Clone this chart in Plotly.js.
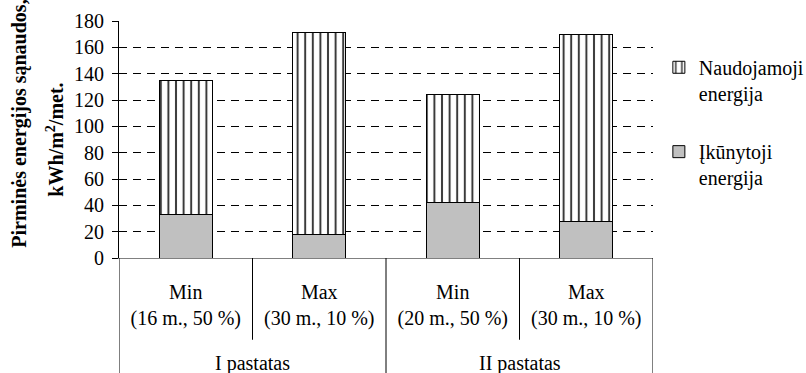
<!DOCTYPE html>
<html>
<head>
<meta charset="utf-8">
<script src="https://cdn.plot.ly/plotly-3.0.1.min.js"></script>
<style>
  html, body { margin: 0; padding: 0; background: #fff; }
  #chart { width: 806px; height: 373px; }
</style>
</head>
<body>
<div id="chart"></div>
<script>
// Scenario labels (inner level) and building groups (outer level)
const cases = ['Min<br>(16 m., 50 %)', 'Max<br>(30 m., 10 %)', 'Min<br>(20 m., 50 %)', 'Max<br>(30 m., 10 %)'];
const buildings = ['I pastatas', 'II pastatas'];
const casesPerBuilding = 2;

// Primary energy use, kWh/m2/year
const embodied = [33, 18, 42, 28];          // Įkūnytoji energija
const operational = [102, 153, 82, 142];    // Naudojamoji energija

const yTicks = [0, 20, 40, 60, 80, 100, 120, 140, 160, 180];

const FONT = "'Liberation Serif', 'Times New Roman', serif";
const xIdx = cases.map((_, i) => i);

const traces = [
  {
    type: 'bar',
    name: 'Įkūnytoji<br>energija',
    x: xIdx,
    y: embodied,
    width: 0.4,
    legend: 'legend2',
    marker: { color: '#c0c0c0', line: { color: '#000', width: 1 } },
    hoverinfo: 'skip'
  },
  {
    type: 'bar',
    name: 'Naudojamoji<br>energija',
    x: xIdx,
    y: operational,
    width: 0.4,
    legend: 'legend',
    marker: {
      color: '#fff',
      line: { color: '#000', width: 1 },
      pattern: { shape: '|', fgcolor: '#3a3a3a', bgcolor: '#fff', size: 7.6, solidity: 0.26 }
    },
    hoverinfo: 'skip'
  }
];

// Divider lines under the category axis
const shapes = [];
const innerBottom = -0.345, outerBottom = -0.49;
for (let i = 0; i <= cases.length; i++) {
  const isOuter = i % casesPerBuilding === 0;
  shapes.push({
    type: 'line', xref: 'x', yref: 'paper',
    x0: i - 0.5, x1: i - 0.5, y0: 0, y1: isOuter ? outerBottom : innerBottom,
    line: { color: '#000', width: 1 }
  });
}

const annotations = buildings.map((b, g) => ({
  text: b, xref: 'x', yref: 'paper',
  x: g * casesPerBuilding + (casesPerBuilding - 1) / 2, y: -0.447,
  showarrow: false, xanchor: 'center', yanchor: 'middle',
  font: { family: FONT, size: 20, color: '#000' }
}));

// Y-axis title, two rotated lines
annotations.push({
  text: '<b>Pirminės energijos sąnaudos,</b>', xref: 'paper', yref: 'paper',
  x: -0.188, y: 0.565, textangle: -90, showarrow: false,
  xanchor: 'center', yanchor: 'middle',
  font: { family: FONT, size: 20, color: '#000' }
});
annotations.push({
  text: '<b>kWh/m<sup>2</sup>/met.</b>', xref: 'paper', yref: 'paper',
  x: -0.1205, y: 0.498, textangle: -90, showarrow: false,
  xanchor: 'center', yanchor: 'middle',
  font: { family: FONT, size: 20, color: '#000' }
});

const legendCommon = {
  xref: 'paper', yref: 'paper', xanchor: 'left', yanchor: 'top',
  bgcolor: 'rgba(0,0,0,0)', borderwidth: 0, valign: 'top',
  font: { family: FONT, size: 20, color: '#000' }
};

const layout = {
  width: 806, height: 373,
  margin: { l: 119, r: 153, t: 21, b: 115, pad: 0, autoexpand: false },
  paper_bgcolor: '#fff', plot_bgcolor: '#fff',
  barmode: 'stack',
  font: { family: FONT, size: 20, color: '#000' },
  showlegend: true,
  legend: Object.assign({}, legendCommon, { x: 1.011, y: 0.887 }),
  legend2: Object.assign({}, legendCommon, { x: 1.011, y: 0.531 }),
  xaxis: {
    range: [-0.5, cases.length - 0.5],
    tickvals: xIdx, ticktext: cases,
    ticks: '', showgrid: false, zeroline: false,
    showline: true, linecolor: '#808080', linewidth: 1,
    tickfont: { family: FONT, size: 20, color: '#000' },
    ticklabelstandoff: 16,
    fixedrange: true
  },
  yaxis: {
    range: [0, 180], tickvals: yTicks,
    ticks: 'outside', ticklen: 6, tickcolor: '#000', tickwidth: 1,
    showline: true, linecolor: '#000', linewidth: 1,
    showgrid: true, gridcolor: '#000', gridwidth: 1, griddash: '8px,6px',
    zeroline: false,
    tickfont: { family: FONT, size: 20, color: '#000' },
    ticklabelstandoff: 4,
    fixedrange: true
  },
  shapes: shapes,
  annotations: annotations
};

Plotly.newPlot('chart', traces, layout, { staticPlot: true, displayModeBar: false });
</script>
</body>
</html>
